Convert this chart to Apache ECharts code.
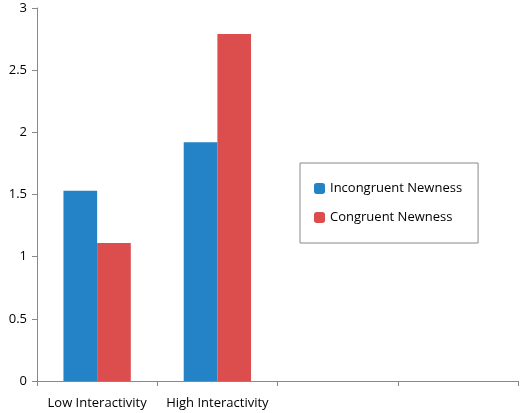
<!DOCTYPE html>
<html><head><meta charset="utf-8">
<script src="https://cdn.jsdelivr.net/npm/echarts@6/dist/echarts.min.js"></script>
<style>html,body{margin:0;padding:0;background:#fff}#c{width:520px;height:413px}</style>
</head><body><div id="c"></div>
<script>
const categories = ['Low Interactivity', 'High Interactivity', '', ''];
const incongruent = [1.53, 1.92, null, null];
const congruent = [1.11, 2.79, null, null];
const yTicks = [0, 0.5, 1, 1.5, 2, 2.5, 3];

const chart = echarts.init(document.getElementById('c'));
chart.setOption({
  animation: false,
  textStyle: {fontFamily: 'Open Sans, Liberation Sans, sans-serif'},
  grid: {left: 37, right: 2, top: 8, bottom: 32},
  legend: {
    orient: 'vertical', left: 300, top: 163,
    padding: [19, 16, 19, 14], itemGap: 16,
    itemWidth: 11, itemHeight: 11,
    borderColor: '#888', borderWidth: 1,
    textStyle: {fontSize: 13, color: '#000'},
    data: ['Incongruent Newness', 'Congruent Newness']
  },
  xAxis: {
    type: 'category', data: categories,
    axisLine: {lineStyle: {color: '#888'}},
    axisTick: {show: true, alignWithLabel: false, length: 5, lineStyle: {color: '#888'}},
    axisLabel: {color: '#000', fontSize: 13, interval: 0, margin: 16}
  },
  yAxis: {
    type: 'value', min: 0, max: 3, interval: 0.5,
    axisLine: {show: true, lineStyle: {color: '#888'}},
    axisTick: {show: true, length: 5, lineStyle: {color: '#888'}},
    splitLine: {show: false},
    axisLabel: {color: '#000', fontSize: 13, margin: 10,
      formatter: v => yTicks.includes(v) ? String(v) : ''}
  },
  series: [
    {name: 'Incongruent Newness', type: 'bar', data: incongruent, barWidth: '28%', barGap: '0%',
     itemStyle: {color: '#2383c6'}},
    {name: 'Congruent Newness', type: 'bar', data: congruent, barWidth: '28%',
     itemStyle: {color: '#dc4e4e'}}
  ]
});
</script></body></html>
